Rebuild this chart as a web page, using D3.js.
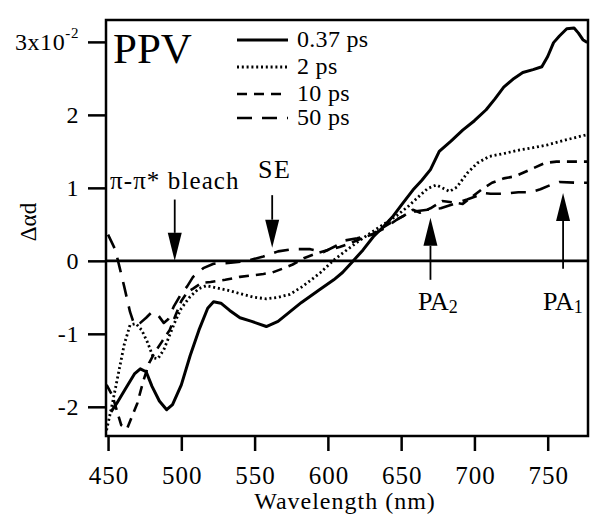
<!DOCTYPE html>
<html>
<head>
<meta charset="utf-8">
<script src="https://cdn.jsdelivr.net/npm/d3@7"></script>
<style>
  body { margin: 0; background: #fff; }
  text { font-family: "Liberation Serif", "Times New Roman", serif; fill: #000; }
</style>
</head>
<body>
<svg id="spectra" width="592" height="518"></svg>
<script>
// Data (delta alpha d in units of 1e-2)
const wl037 = [452, 456, 462, 468, 472, 476, 480, 485, 490, 494, 500, 506, 512, 518, 522, 527, 533, 540, 548, 558, 566, 574, 582, 594, 604, 610, 616, 624, 631, 638, 644, 650, 658, 664, 670, 676, 684, 692, 700, 708, 714, 720, 727, 733, 740, 746, 750, 754, 758, 763, 768, 771, 774, 777];
const val037 = [-2.07, -1.95, -1.75, -1.55, -1.48, -1.52, -1.72, -1.92, -2.04, -1.97, -1.70, -1.30, -0.95, -0.65, -0.56, -0.58, -0.68, -0.78, -0.83, -0.90, -0.83, -0.70, -0.57, -0.40, -0.26, -0.16, -0.03, 0.15, 0.33, 0.47, 0.60, 0.76, 0.97, 1.10, 1.25, 1.50, 1.64, 1.79, 1.92, 2.07, 2.22, 2.38, 2.50, 2.58, 2.62, 2.66, 2.80, 2.99, 3.08, 3.18, 3.19, 3.12, 3.03, 2.99];

const wl2 = [449, 453, 457, 461, 465, 469, 473, 477, 481, 484, 488, 492, 496, 500, 506, 512, 517, 524, 533, 540, 550, 558, 566, 574, 582, 588, 595, 604, 613, 621, 629, 638, 647, 655, 662, 668, 674, 679, 683, 688, 695, 702, 710, 720, 731, 740, 750, 763, 777];
const val2 = [-2.32, -1.95, -1.55, -1.15, -0.88, -0.86, -0.95, -1.12, -1.33, -1.34, -1.22, -1.02, -0.82, -0.65, -0.49, -0.38, -0.34, -0.37, -0.41, -0.45, -0.50, -0.52, -0.50, -0.46, -0.36, -0.27, -0.16, 0.01, 0.15, 0.27, 0.38, 0.50, 0.62, 0.75, 0.88, 0.99, 1.04, 0.99, 0.95, 1.01, 1.20, 1.34, 1.43, 1.47, 1.52, 1.55, 1.59, 1.66, 1.73];

const wl10 = [449, 453, 456, 459, 463, 466, 470, 474, 478, 482, 487, 492, 496, 500, 504, 508, 514, 520, 530, 540, 548, 556, 562, 570, 576, 584, 592, 600, 608, 615, 622, 630, 638, 646, 652, 658, 663, 670, 678, 686, 692, 698, 705, 712, 720, 728, 738, 748, 756, 766, 777];
const val10 = [-1.70, -1.85, -2.05, -2.25, -2.30, -2.15, -1.95, -1.65, -1.40, -1.25, -1.10, -0.95, -0.75, -0.55, -0.43, -0.38, -0.30, -0.29, -0.26, -0.22, -0.20, -0.18, -0.16, -0.10, -0.05, 0.04, 0.10, 0.15, 0.19, 0.24, 0.30, 0.36, 0.46, 0.56, 0.62, 0.70, 0.66, 0.72, 0.82, 0.80, 0.78, 0.87, 0.98, 1.07, 1.13, 1.16, 1.25, 1.34, 1.36, 1.36, 1.36];

const wl50 = [450, 455, 458, 461, 465, 468, 472, 476, 480, 484, 488, 491, 495, 500, 504, 508, 515, 522, 532, 545, 556, 566, 576, 588, 597, 605, 612, 620, 630, 638, 646, 652, 660, 668, 677, 686, 695, 703, 706, 711, 720, 730, 738, 745, 752, 758, 770, 777];
const val50 = [0.36, 0.15, -0.10, -0.35, -0.70, -0.88, -0.85, -0.78, -0.70, -0.74, -0.85, -0.80, -0.62, -0.45, -0.35, -0.22, -0.10, -0.04, -0.03, 0.00, 0.06, 0.13, 0.16, 0.16, 0.12, 0.20, 0.28, 0.31, 0.36, 0.44, 0.55, 0.62, 0.68, 0.70, 0.72, 0.78, 0.84, 0.90, 0.93, 0.92, 0.92, 0.94, 0.94, 0.98, 1.04, 1.08, 1.07, 1.07];

const seriesNames = ["0.37 ps", "2 ps", "10 ps", "50 ps"];
const xTicks = [450, 500, 550, 600, 650, 700, 750];
const yTicks = [-2, -1, 0, 1, 2, 3];

const svg = d3.select("#spectra");
const width = +svg.attr("width");
const height = +svg.attr("height");

// Settings
const margin = { top: 20, bottom: 82, left: 106, right: 4 };
const innerWidth = width - margin.left - margin.right;
const innerHeight = height - margin.top - margin.bottom;
const serif = '"Liberation Serif", "Times New Roman", serif';

const series = [
  { name: seriesNames[0], wl: wl037, val: val037, dash: null, w: 3 },
  { name: seriesNames[1], wl: wl2, val: val2, dash: "2,2.8", w: 2.8 },
  { name: seriesNames[2], wl: wl10, val: val10, dash: "10,7", w: 2.6 },
  { name: seriesNames[3], wl: wl50, val: val50, dash: "15,10", w: 2.6 }
];

const xScale = d3.scaleLinear().domain([448.6, 777.5]).range([0, innerWidth]);
const yScale = d3.scaleLinear().domain([-2.4, 3.3]).range([innerHeight, 0]);

const g = svg.append("g").attr("transform", `translate(${margin.left},${margin.top})`);

g.append("clipPath").attr("id", "plot-clip")
  .append("rect").attr("width", innerWidth).attr("height", innerHeight);

// y-Axis
const yAxis = d3.axisLeft(yScale).tickValues(yTicks).tickSize(18).tickPadding(9)
  .tickFormat((d) => String(d));
const yAxisG = g.append("g").call(yAxis);
yAxisG.select(".domain").remove();
yAxisG.selectAll(".tick line").attr("stroke-width", 2.5);
yAxisG.selectAll(".tick text").attr("font-size", 24).attr("font-family", serif)
  .attr("fill", "#000").attr("letter-spacing", 0.6);
yAxisG.selectAll(".tick text").filter((d) => d === 3)
  .text("3x10")
  .append("tspan").attr("dy", -12).attr("font-size", 15).text("-2");

// x-Axis
const xAxis = d3.axisBottom(xScale).tickValues(xTicks).tickSize(15).tickPadding(15);
const xAxisG = g.append("g").attr("transform", `translate(0,${innerHeight})`).call(xAxis);
xAxisG.select(".domain").remove();
xAxisG.selectAll(".tick line").attr("stroke-width", 2.5);
xAxisG.selectAll(".tick text").attr("font-size", 25).attr("font-family", serif)
  .attr("fill", "#000").attr("letter-spacing", 1).attr("dx", 0.5);

// axis titles
svg.append("text")
  .attr("x", 345)
  .attr("y", 509)
  .attr("text-anchor", "middle")
  .attr("font-size", 24)
  .attr("letter-spacing", 1)
  .text("Wavelength (nm)");

svg.append("text")
  .attr("transform", "translate(36,222) rotate(-90)")
  .attr("text-anchor", "middle")
  .attr("font-size", 23)
  .text("Δαd");

// zero line
g.append("line")
  .attr("x1", 0).attr("x2", innerWidth)
  .attr("y1", yScale(0)).attr("y2", yScale(0))
  .attr("stroke", "#000").attr("stroke-width", 2.8);

// Curves
const lineGenerator = d3.line()
  .x((d) => xScale(d[0]))
  .y((d) => yScale(d[1]));

series.forEach((s) => {
  const pts = s.wl.map((w, i) => [w, s.val[i]]);
  g.append("path")
    .attr("d", lineGenerator(pts))
    .attr("clip-path", "url(#plot-clip)")
    .attr("fill", "none")
    .attr("stroke", "#000")
    .attr("stroke-width", s.w)
    .attr("stroke-linejoin", "round")
    .attr("stroke-dasharray", s.dash);
});

// frame
g.append("rect")
  .attr("width", innerWidth).attr("height", innerHeight)
  .attr("fill", "none").attr("stroke", "#000").attr("stroke-width", 2.5);

// PPV label
g.append("text").attr("x", 7).attr("y", 43).attr("font-size", 43).text("PPV");

// Legend
const legendY = [20, 47, 74, 98];
series.forEach((s, i) => {
  g.append("line")
    .attr("x1", 131).attr("x2", 182)
    .attr("y1", legendY[i]).attr("y2", legendY[i])
    .attr("stroke", "#000").attr("stroke-width", s.w)
    .attr("stroke-dasharray", s.dash);
  g.append("text")
    .attr("x", 191).attr("y", legendY[i] + 7)
    .attr("font-size", 24)
    .attr("letter-spacing", 0.3)
    .text(s.name);
});

// Annotation arrows
const arrows = [
  { wl: 495.5, from: 0.84, to: 0.0 },
  { wl: 562, from: 0.90, to: 0.18 },
  { wl: 670, from: -0.26, to: 0.59 },
  { wl: 760.5, from: -0.11, to: 0.93 }
];
arrows.forEach((a) => {
  const x = xScale(a.wl);
  const y0 = yScale(a.from);
  const y1 = yScale(a.to);
  const dir = y1 > y0 ? 1 : -1;
  const headLen = 28;
  const headW = 7;
  g.append("line")
    .attr("x1", x).attr("x2", x)
    .attr("y1", y0).attr("y2", y1 - dir * headLen)
    .attr("stroke", "#000").attr("stroke-width", 1.8);
  g.append("path")
    .attr("d", `M${x},${y1} L${x - headW},${y1 - dir * headLen} L${x + headW},${y1 - dir * headLen} Z`)
    .attr("fill", "#000");
});

// Annotation labels
g.append("text").attr("x", 4).attr("y", 169).attr("font-size", 25)
  .attr("letter-spacing", 1.1).text("π-π* bleach");
g.append("text").attr("x", 152).attr("y", 158).attr("font-size", 26)
  .attr("letter-spacing", 1.5).text("SE");

const pa2 = g.append("text").attr("x", 312).attr("y", 290).attr("font-size", 26).text("PA");
pa2.append("tspan").attr("font-size", 18).attr("dy", 3).text("2");
const pa1 = g.append("text").attr("x", 437).attr("y", 290).attr("font-size", 26).text("PA");
pa1.append("tspan").attr("font-size", 18).attr("dy", 3).text("1");
</script>
</body>
</html>
